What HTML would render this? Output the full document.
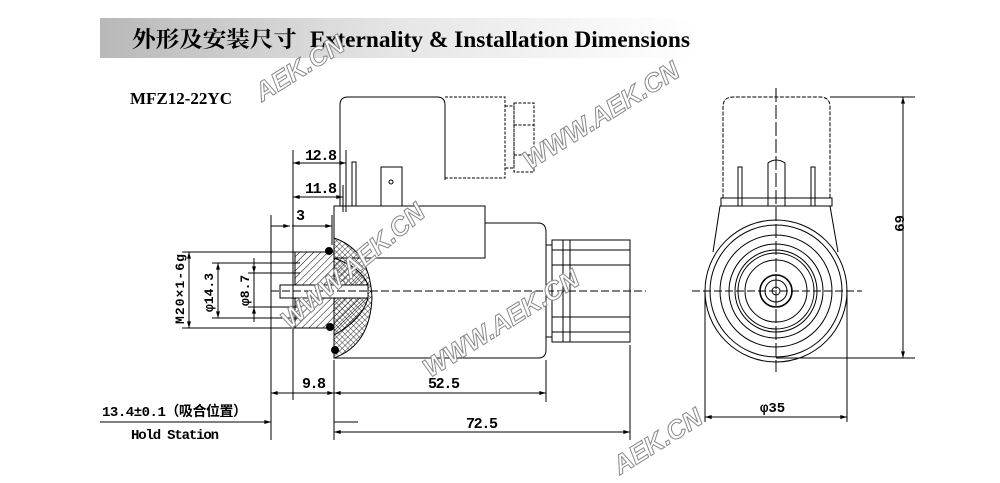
<!DOCTYPE html>
<html><head><meta charset="utf-8"><style>
html,body{margin:0;padding:0;background:#fff;}
svg{display:block;}
text{font-family:"Liberation Serif","Noto Serif CJK SC",serif;}
text.m{font-family:"Liberation Mono","Noto Sans CJK SC",monospace;}
text.wm{font-family:"Liberation Sans",sans-serif;font-weight:bold;fill:#fff;stroke:#888;stroke-width:1;font-style:italic;}
</style></head><body>
<svg width="1000" height="483" viewBox="0 0 1000 483" xmlns="http://www.w3.org/2000/svg">
<defs>
<linearGradient id="g" x1="0" x2="1" y1="0" y2="0">
<stop offset="0" stop-color="#b8b8b8"/><stop offset="0.5" stop-color="#e6e6e6"/><stop offset="1" stop-color="#ffffff"/>
</linearGradient>
<pattern id="h" width="5" height="5" patternUnits="userSpaceOnUse" patternTransform="rotate(45)">
<line x1="0" y1="0" x2="0" y2="5" stroke="#000" stroke-width="1"/></pattern>
<pattern id="x" width="4" height="4" patternUnits="userSpaceOnUse" patternTransform="rotate(45)">
<path d="M0 0H4M0 0V4" stroke="#000" stroke-width="0.8" fill="none"/></pattern>
<marker id="a" viewBox="0 0 10 6" refX="10" refY="3" markerWidth="10" markerHeight="4" orient="auto-start-reverse" markerUnits="userSpaceOnUse"><path d="M0 0L10 3L0 6z" fill="#000"/></marker>
</defs>
<rect x="100" y="18" width="595" height="40" fill="url(#g)"/>
<text x="132" y="47" font-size="22" font-weight="bold" font-family="Liberation Sans,Noto Sans CJK SC,sans-serif" textLength="165" lengthAdjust="spacingAndGlyphs">外形及安装尺寸</text>
<text x="310" y="47" font-size="23" font-weight="bold" textLength="380" lengthAdjust="spacingAndGlyphs">Externality &amp; Installation Dimensions</text>
<text x="130" y="104" font-size="17" font-weight="bold">MFZ12-22YC</text>

<g fill="none" stroke="#000" stroke-width="1">
<path d="M340 206V105Q340 97 348 97H437Q445 97 445 105V180"/>
<path d="M445 97H505V178H445" stroke-dasharray="3 1.5"/>
<path d="M505 106H514V168H505" stroke-dasharray="3 1.5"/>
<rect x="514" y="103" width="20" height="69" stroke-dasharray="3 1.5"/>
<path d="M514 125H534M514 155H534" stroke-dasharray="3 1.5"/>
<line x1="340" y1="206" x2="445" y2="206"/>
<rect x="352" y="162" width="4" height="44"/>
<rect x="381" y="167" width="21" height="39"/>
<circle cx="391" cy="182" r="2"/>
<rect x="334" y="206" width="151" height="52"/>
<path d="M485 223H538Q546 223 546 232V350Q546 358 538 358H334V258"/>
<rect x="552" y="240" width="78" height="102"/>
<path d="M546 245H552M546 337H552M563 240V342M570 240V342M552 250H630M552 265H630M552 317H630M552 332H630"/>
<path d="M334 238Q370 250 372 298Q370 345 334 358Z" fill="url(#x)"/>
<path d="M295 252H334V328H295Z" fill="url(#h)"/>
<path d="M334 258Q362 268 368 285H334Z M334 298H368Q362 320 334 335Z" fill="url(#h)"/>
<rect x="280" y="285" width="88" height="13" fill="#fff"/>
<circle cx="329" cy="251" r="3.5" fill="#000"/>
<circle cx="330" cy="327" r="3.5" fill="#000"/>
<circle cx="335" cy="350" r="3.5" fill="#000"/>
<line x1="271" y1="291" x2="646" y2="291" stroke-dasharray="8 3"/>
<path d="M293 150V400M346 150V212M343 185V212M332 215V245M271 215V440M334 360V440M546 360V402M630 345V440M182 252H300M182 328H300M212 263H300M212 318H300M248 273H300M248 307H300"/>
</g>
<g stroke="#000" stroke-width="1">
<line x1="293" y1="163" x2="346" y2="163" marker-start="url(#a)" marker-end="url(#a)"/>
<line x1="293" y1="197" x2="343" y2="197" marker-start="url(#a)" marker-end="url(#a)"/>
<line x1="271" y1="226" x2="290" y2="226" marker-end="url(#a)"/>
<line x1="292" y1="226" x2="332" y2="226" marker-end="url(#a)"/>
<line x1="189" y1="252" x2="189" y2="328" marker-start="url(#a)" marker-end="url(#a)"/>
<line x1="218" y1="263" x2="218" y2="318" marker-start="url(#a)" marker-end="url(#a)"/>
<line x1="254" y1="258" x2="254" y2="273" marker-end="url(#a)"/>
<line x1="254" y1="322" x2="254" y2="307" marker-end="url(#a)"/>
<line x1="254" y1="273" x2="254" y2="307"/>
<line x1="271" y1="393" x2="334" y2="393" marker-start="url(#a)" marker-end="url(#a)"/>
<line x1="334" y1="393" x2="546" y2="393" marker-start="url(#a)" marker-end="url(#a)"/>
<line x1="100" y1="422" x2="271" y2="422" marker-end="url(#a)"/>
<line x1="334" y1="422" x2="358" y2="422"/>
<line x1="334" y1="432" x2="630" y2="432" marker-start="url(#a)" marker-end="url(#a)"/>
</g>
<g fill="#000">
<text class="m" x="305" y="160" font-size="15" font-weight="bold" textLength="32">12.8</text>
<text class="m" x="305" y="193" font-size="15" font-weight="bold" textLength="32">11.8</text>
<text class="m" x="296" y="220" font-size="15" font-weight="bold">3</text>
<text class="m" x="302" y="388" font-size="15" font-weight="bold" textLength="24">9.8</text>
<text class="m" x="428" y="388" font-size="15" font-weight="bold" textLength="32">52.5</text>
<text class="m" x="466" y="428" font-size="15" font-weight="bold" textLength="32">72.5</text>
<text class="m" x="102" y="416" font-size="14" font-weight="bold" textLength="145">13.4±0.1（吸合位置）</text>
<text class="m" x="131" y="439" font-size="14" font-weight="bold" textLength="88">Hold Station</text>
<text class="m" transform="translate(184,324) rotate(-90)" font-size="13" font-weight="bold" textLength="70">M20×1-6g</text>
<text class="m" transform="translate(213,312) rotate(-90)" font-size="13" font-weight="bold">φ14.3</text>
<text class="m" transform="translate(249,306) rotate(-90)" font-size="13" font-weight="bold">φ8.7</text>
<text class="m" x="760" y="412" font-size="14" font-weight="bold">φ35</text>
<text class="m" transform="translate(895,215) rotate(90)" font-size="14" font-weight="bold">69</text>
</g>

<g fill="none" stroke="#000" stroke-width="1">
<path d="M723 198V107Q723 97 733 97H820Q830 97 830 107V198" stroke-dasharray="4 1.5"/>
<rect x="721" y="198" width="111" height="8"/>
<path d="M720 206L713 252M830 206L838 252M720 206H830"/>
<rect x="738" y="167" width="4" height="39"/>
<rect x="811" y="167" width="4" height="39"/>
<path d="M768 206V163Q776 157 785 163V206"/>
<circle cx="776" cy="291" r="71"/>
<circle cx="776" cy="291" r="66"/>
<circle cx="776" cy="291" r="56"/>
<circle cx="776" cy="291" r="47"/>
<circle cx="776" cy="291" r="41"/>
<circle cx="776" cy="291" r="38"/>
<circle cx="776" cy="291" r="31"/>
<circle cx="776" cy="291" r="16" stroke-width="1.6"/>
<circle cx="776" cy="291" r="11"/>
<circle cx="776" cy="291" r="4"/>
<line x1="692" y1="291" x2="862" y2="291" stroke-dasharray="8 3"/>
<line x1="776" y1="88" x2="776" y2="372" stroke-dasharray="14 3"/>
<path d="M830 97H915M776 358H915M705 291V422M847 291V422"/>
</g>
<g stroke="#000">
<line x1="903" y1="97" x2="903" y2="358" marker-start="url(#a)" marker-end="url(#a)"/>
<line x1="705" y1="417" x2="847" y2="417" marker-start="url(#a)" marker-end="url(#a)"/>
</g>

<g font-size="26">
<text class="wm" transform="translate(262,102) rotate(-32)">AEK.CN</text>
<text class="wm" transform="translate(530,170) rotate(-32)">WWW.AEK.CN</text>
<text class="wm" transform="translate(290,330) rotate(-40)">WWW.AEK.CN</text>
<text class="wm" transform="translate(430,378) rotate(-32)">WWW.AEK.CN</text>
<text class="wm" transform="translate(620,475) rotate(-32)">AEK.CN</text>
</g>
</svg>
</body></html>
